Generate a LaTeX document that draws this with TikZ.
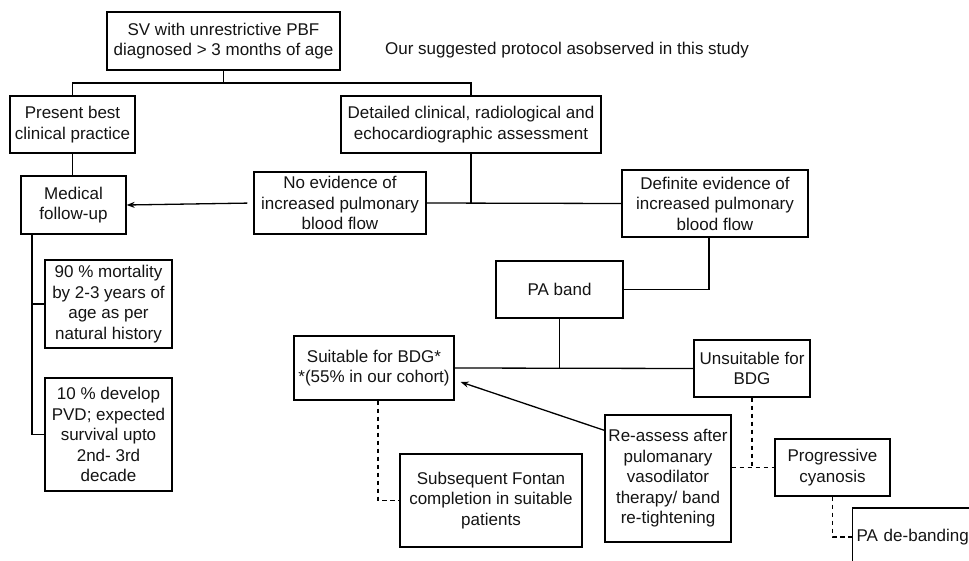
\documentclass[tikz,border=0pt]{standalone}
\usepackage{fontspec}
\setmainfont{Liberation Sans}
\usetikzlibrary{arrows.meta,calc}
\begin{document}
\begin{tikzpicture}[x=1pt,y=-1pt,
  box/.style={draw=black, line width=1.3pt, inner sep=0pt, align=center, text=black!92, font=\fontsize{17}{20.5}\selectfont},
  conn/.style={line width=1.3pt, black},
  dconn/.style={line width=1.3pt, black, dash pattern=on 4.5pt off 3.5pt},
  arr/.style={conn, -{Stealth[length=8pt,width=6pt]}}]
\useasboundingbox (0,0) rectangle (969,561);
\clip (0,0) rectangle (969,561);
\fill[white] (0,0) rectangle (969,561);
% nodes
\node[box, minimum width=233, minimum height=58] (sv) at (223.5,41) {SV with unrestrictive PBF\\diagnosed > 3 months of age};
\node[font=\fontsize{17}{20.5}\selectfont, text=black!92] (title) at (567,50) {Our suggested protocol asobserved in this study};
\node[box, minimum width=125, minimum height=57] (present) at (72.5,124.5) {Present best\\clinical practice};
\node[box, minimum width=260, minimum height=57] (detailed) at (471,124.5) {Detailed clinical, radiological and\\echocardiographic assessment};
\node[box, minimum width=105, minimum height=58] (medical) at (73.5,205) {Medical\\follow-up};
\node[box, minimum width=172, minimum height=62] (noev) at (340,203) {No evidence of\\increased pulmonary\\blood flow};
\node[box, minimum width=186, minimum height=67] (defev) at (715,203.5) {Definite evidence of\\increased pulmonary\\blood flow};
\node[box, minimum width=127, minimum height=57] (paband) at (559.5,289.5) {PA band};
\node[box, minimum width=160, minimum height=64] (suitable) at (374,368) {Suitable for BDG*\\*(55\% in our cohort)};
\node[box, minimum width=116, minimum height=57] (unsuit) at (752,368.5) {Unsuitable for\\BDG};
\node[box, minimum width=126, minimum height=127] (reassess) at (668,478.5) {Re-assess after\\pulomanary\\vasodilator\\therapy/ band\\re-tightening};
\node[box, minimum width=115, minimum height=57] (prog) at (832.5,467.5) {Progressive\\cyanosis};
\node[box, minimum width=182, minimum height=93] (fontan) at (491,500.5) {Subsequent Fontan\\completion in suitable\\patients};
\node[box, minimum width=127, minimum height=88] (b90) at (108.5,304) {90 \% mortality\\by 2-3 years of\\age as per\\natural history};
\node[box, minimum width=127, minimum height=113] (b10) at (108.5,434.5) {10 \% develop\\PVD; expected\\survival upto\\2nd- 3rd\\decade};
\node[box, anchor=west, minimum height=58, text width=140pt, align=left, inner xsep=4pt] (deband) at (852,537) {PA de-banding};
% junction coordinates
\coordinate (j1) at (223.5,83);
\coordinate (j2) at (471,204);
\coordinate (j3) at (709,289.5);
\coordinate (j4) at (559.5,368);
\coordinate (m) at (32,300);
% connectors
\draw[conn] (sv.south) -- (j1);
\draw[conn] (present.north) |- (j1) -| (detailed.north);
\draw[conn] (present.south) -- (present.south |- medical.north);
\draw[conn] (detailed.south) -- (j2);
\draw[conn] (noev.east) -- (defev.west);
\draw[arr, shorten <=6pt] (noev.west) -- (medical.east);
\draw[conn] (defev.south -| j3) -- (j3) -- (paband.east);
\draw[conn] (paband.south) -- (j4);
\draw[conn] (suitable.east) -- (unsuit.west);
\draw[arr] ([yshift=-16pt]reassess.north west) -- ([xshift=6pt,yshift=-14pt]suitable.east);
\draw[dconn] (unsuit.south) -- (unsuit.south |- prog.west);
\draw[dconn] (reassess.east |- prog.west) -- (prog.west);
\draw[dconn] (prog.south) |- (deband.west);
\draw[dconn] ([xshift=4pt]suitable.south) |- (fontan.west);
\draw[conn] (medical.south -| m) |- (b90.west);
\draw[conn] (medical.south -| m) |- (b10.west);
\end{tikzpicture}
\end{document}
